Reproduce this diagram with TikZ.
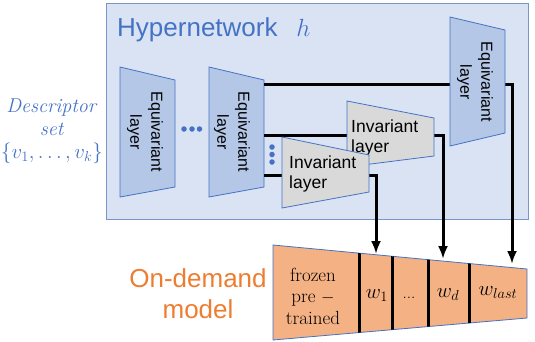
\documentclass[tikz,border=0pt]{standalone}
\usepackage{fontspec}
\setsansfont{Liberation Sans}
\usetikzlibrary{arrows.meta, calc, positioning}

\definecolor{hyperfill}{HTML}{DAE3F3}
\definecolor{hyperline}{HTML}{7A96C8}
\definecolor{layline}{HTML}{4472C4}
\definecolor{eqfill}{HTML}{B4C7E7}
\definecolor{invfill}{HTML}{D9D9D9}
\definecolor{modelfill}{HTML}{F4B183}
\definecolor{modeltext}{HTML}{ED7D31}

\begin{document}
\begin{tikzpicture}[x=1pt, y=-1pt, >={Latex[length=13pt,width=10pt]},
    eqlayer/.style={draw=layline, fill=eqfill, line width=0.8pt},
    invlayer/.style={draw=layline, fill=invfill, line width=0.8pt},
    eqtext/.style={rotate=-90, align=center, inner sep=0pt,
      font=\sffamily\fontsize{16}{21}\selectfont},
    invtext/.style={anchor=west, align=left, inner sep=0pt,
      font=\sffamily\fontsize{17.5}{20}\selectfont},
    wire/.style={line width=3pt},
    bluedot/.style={circle, fill=layline, inner sep=0pt, minimum size=5.5pt},
    wlabel/.style={anchor=base, inner sep=0pt, font=\fontsize{20}{24}\selectfont}]

    \useasboundingbox (0,0) rectangle (535,341);

    % hypernetwork
    \draw[draw=hyperline, fill=hyperfill, line width=0.9pt] (106,3) rectangle (528,219);
    \node[anchor=base west, inner sep=0pt, text=layline,
      font=\sffamily\fontsize{26}{30}\selectfont] (title) at (117,36)
      {Hypernetwork\hspace{0.72em}$h$};

    \node[align=center, inner sep=0pt, text=layline,
      font=\fontsize{20}{23}\selectfont] (desc) at (52,131)
      {\textit{Descriptor}\\ \textit{set}\\ $\{v_1,\dots,v_k\}$};

    \draw[eqlayer] (120,67) -- (175,80) -- (175,187) -- (120,197) -- cycle;
    \node[eqtext] (eq1) at (145,132) {Equivariant\\layer};
    \draw[eqlayer] (209,67) -- (264,80) -- (264,187) -- (209,197) -- cycle;
    \node[eqtext] (eq2) at (232,132) {Equivariant\\layer};

    \foreach \x [count=\i] in {184,192,199.5}
      \node[bluedot] (hdot\i) at (\x,129) {};
    \foreach \y [count=\i] in {147,154.5,162}
      \node[bluedot] (vdot\i) at (272,\y) {};

    % outputs of the last equivariant layer
    \coordinate (out1) at (264,84);
    \coordinate (out2) at (264,135);
    \coordinate (out3) at (264,175);
    \coordinate (in1) at (376,254);
    \coordinate (in2) at (443,259);
    \coordinate (in3) at (512,264);

    \draw[wire,->] (out1) -| (in3);
    \draw[wire,->] (out2) -| (in2);
    \draw[wire,->] (out3) -| (in1);

    \draw[invlayer] (347,101) -- (434,118) -- (434,156) -- (347,167) -- cycle;
    \node[invtext] (inv1) at (351,138) {Invariant\\layer};
    \draw[invlayer] (282,137) -- (369,155) -- (369,192) -- (282,208) -- cycle;
    \node[invtext] (inv2) at (289,174) {Invariant\\layer};

    \draw[eqlayer] (450,17) -- (505,30) -- (505,133) -- (450,146) -- cycle;
    \node[eqtext] (eq3) at (475,82) {Equivariant\\layer};

    % on-demand model
    \node[align=center, inner sep=0pt, text=modeltext,
      font=\sffamily\fontsize{26}{31}\selectfont] (model) at (198,294)
      {On-demand\\model};

    \coordinate (mtl) at (273,245);
    \coordinate (mtr) at (527,269);
    \coordinate (mbr) at (527,318);
    \coordinate (mbl) at (273,340);
    \draw[draw=layline, fill=modelfill, line width=0.8pt]
      (mtl) -- (mtr) -- (mbr) -- (mbl) -- cycle;
    \begin{scope}
      \clip (mtl) -- (mtr) -- (mbr) -- (mbl) -- cycle;
      \foreach \x in {359,392,428,469}
        \draw[wire] (\x,240) -- (\x,345);
    \end{scope}

    \node[align=center, inner sep=0pt, font=\fontsize{19}{21.5}\selectfont]
      (frozen) at (313,296) {frozen\\pre $-$\\trained};
    \node[wlabel] (w1) at (377,298) {$w_1$};
    \node[wlabel, font=\fontsize{17}{20}\selectfont] (wdots) at (409,298) {...};
    \node[wlabel] (wd) at (448,297) {$w_d$};
    \node[wlabel] (wlast) at (498,295) {$w_{last}$};
\end{tikzpicture}
\end{document}
